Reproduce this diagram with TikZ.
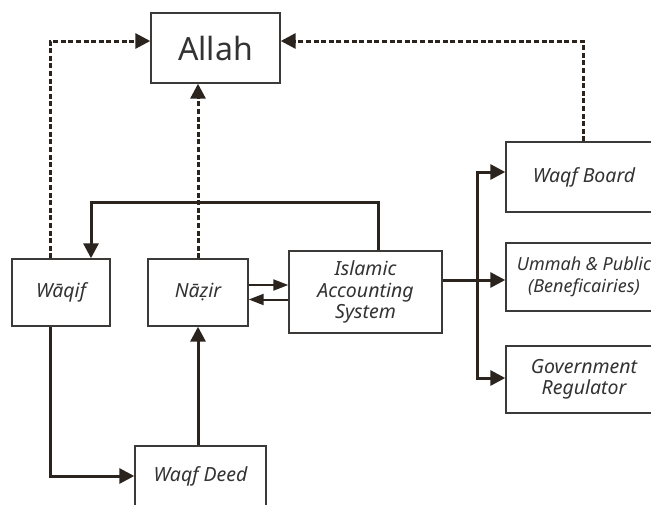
\documentclass[tikz,border=0pt]{standalone}
\usepackage{fontspec}
\setmainfont{Noto Sans}
\usepackage{tikz}
\usetikzlibrary{arrows.meta, positioning}

\definecolor{inkline}{HTML}{2A231E}
\definecolor{boxline}{HTML}{3C3A38}
\definecolor{labeltext}{HTML}{333333}

\begin{document}
\begin{tikzpicture}[
            x = 1pt, y = -1pt, % pixel-like units, y downwards
            > = {Triangle[length=15pt, width=15pt]}, % arrow head style
            line join = miter
        ]

        \tikzstyle{box}=[
            draw = boxline,
            line width = 1.4pt,
            fill = white,
            text = labeltext,
            align = center,
            inner sep = 0pt,
            font = \fontsize{19.5}{21.5}\selectfont\itshape
        ]
        \tikzstyle{conn}=[draw = inkline, line width = 3pt]
        \tikzstyle{thinconn}=[draw = inkline, line width = 2pt,
            >={Triangle[length=15pt, width=11pt]}]
        \tikzstyle{dotline}=[conn, dash pattern = on 5pt off 2.6pt]

        \useasboundingbox (0,0) rectangle (651,504);

	\node[box, minimum width=129pt, minimum height=70pt,
	      font=\fontsize{32}{36}\selectfont] (allah) at (215.5,48) {Allah};
	\node[box, minimum width=98pt, minimum height=67pt] (waqif) at (61,292.5) {Wāqif};
	\node[box, minimum width=100pt, minimum height=67pt] (nazir) at (198,292.5) {Nāẓir};
	\node[box, minimum width=153pt, minimum height=82pt] (ias) at (365.5,292) {Islamic\\Accounting\\System};
	\node[box, minimum width=156pt, minimum height=70pt] (board) at (584,177) {Waqf Board};
	\node[box, minimum width=156pt, minimum height=68pt,
	      font=\fontsize{18}{21.5}\selectfont\itshape] (ummah) at (584,277) {Ummah \& Public\\(Beneficairies)};
	\node[box, minimum width=156pt, minimum height=67pt] (regulator) at (584,379.5) {Government\\Regulator};
	\node[box, minimum width=131pt, minimum height=60pt] (deed) at (200.5,476) {Waqf Deed};

	\coordinate (bus) at ([xshift=35pt, yshift=12pt]ias.east);

        % dotted links up to Allah
        \draw[dotline,->] ([xshift=-11pt]waqif.north) |- ([yshift=7pt]allah.west);
        \draw[dotline,->] (nazir.north) -- (nazir.north |- allah.south);
        \draw[dotline,->] ([xshift=-1pt]board.north) |- ([yshift=7pt]allah.east);

        % solid links
        \draw[conn,->] ([xshift=12.5pt]ias.north) -- ++(0,-48) -| ([xshift=30pt]waqif.north);
        \draw[thinconn,->] ([yshift=7.5pt]nazir.east) -- ([yshift=7.5pt]nazir.east -| ias.west);
        \draw[thinconn,->] ([yshift=-7.5pt]ias.west) -- ([yshift=-7.5pt]ias.west -| nazir.east);
        \draw[conn,->] ([yshift=12pt]ias.east) -- ([yshift=12pt]ias.east -| ummah.west);
        \draw[conn,->] (bus) |- ([yshift=5pt]board.west);
        \draw[conn,->] (bus) |- ([yshift=1.5pt]regulator.west);
        \draw[conn,->] ([xshift=-11pt]waqif.south) |- (deed.west);
        \draw[conn,->] (deed.north -| nazir) -- (nazir.south);

    \end{tikzpicture}
\end{document}
